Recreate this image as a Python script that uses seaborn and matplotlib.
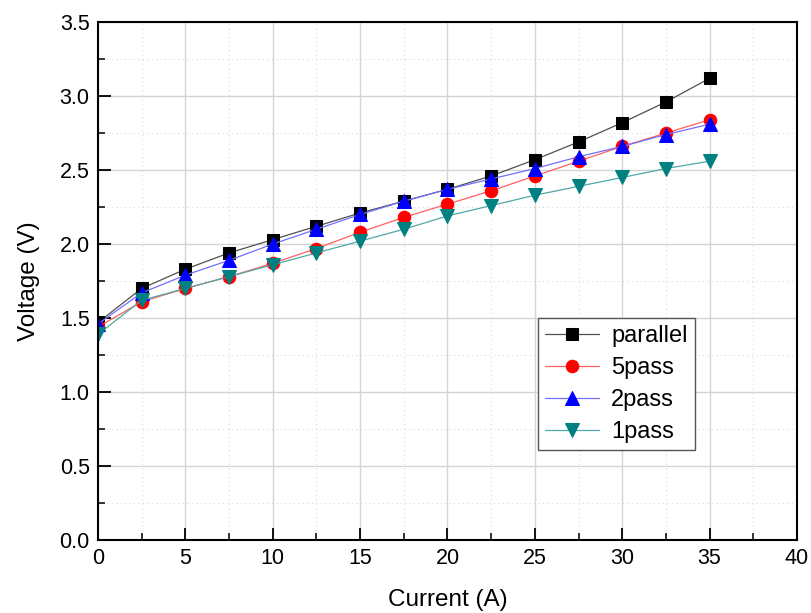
import numpy as np
import pandas as pd
import matplotlib
matplotlib.use("Agg")
import matplotlib.pyplot as plt
from matplotlib.ticker import MultipleLocator
import seaborn as sns

sns.set_style("ticks")
plt.rcParams['font.family'] = ['Liberation Sans', 'DejaVu Sans']

current = [0, 2.5, 5, 7.5, 10, 12.5, 15, 17.5, 20, 22.5, 25, 27.5, 30, 32.5, 35]
v_parallel = [1.47, 1.70, 1.83, 1.94, 2.03, 2.12, 2.21, 2.29, 2.37, 2.46, 2.57, 2.69, 2.82, 2.96, 3.12]
v_5pass = [1.44, 1.61, 1.70, 1.78, 1.87, 1.97, 2.08, 2.18, 2.27, 2.36, 2.46, 2.56, 2.66, 2.75, 2.84]
v_2pass = [1.46, 1.67, 1.79, 1.89, 2.00, 2.10, 2.20, 2.29, 2.37, 2.44, 2.51, 2.59, 2.66, 2.74, 2.81]
v_1pass = [1.39, 1.62, 1.70, 1.78, 1.86, 1.94, 2.02, 2.10, 2.19, 2.26, 2.33, 2.39, 2.45, 2.51, 2.56]

series = [
    ("parallel", v_parallel, "s", "black", "#505050"),
    ("5pass", v_5pass, "o", "red", "#ff6060"),
    ("2pass", v_2pass, "^", "blue", "#7070ff"),
    ("1pass", v_1pass, "v", "#008080", "#50a8a8"),
]

fig = plt.figure(figsize=(8.11, 6.13), dpi=100)
ax = fig.add_axes([0.1208, 0.119, 0.8619, 0.845])

for name, vals, mk, mcol, lcol in series:
    df = pd.DataFrame({"Current": current, "Voltage": vals})
    sns.lineplot(data=df, x="Current", y="Voltage", ax=ax, color=lcol, linewidth=0.9,
                 marker=mk, markersize=10 if mk in "^v" else 9, markerfacecolor=mcol,
                 markeredgecolor=mcol, label=name)

ax.set_xlim(0, 40)
ax.set_ylim(0, 3.5)
ax.xaxis.set_major_locator(MultipleLocator(5))
ax.xaxis.set_minor_locator(MultipleLocator(2.5))
ax.yaxis.set_major_locator(MultipleLocator(0.5))
ax.yaxis.set_minor_locator(MultipleLocator(0.25))
ax.set_xticklabels([f"{int(t)}" for t in ax.get_xticks()])
ax.set_yticklabels([f"{t:.1f}" for t in ax.get_yticks()])
ax.grid(which="major", color="#d4d4d4", linewidth=1.0, linestyle="-")
ax.grid(which="minor", color="#d8d8d8", linewidth=0.8, linestyle=(0, (1, 3)))
ax.set_axisbelow(True)
ax.tick_params(which="major", direction="in", length=9, width=1.3, labelsize=15.5,
               labelcolor="black", color="black", pad=6)
ax.tick_params(which="minor", direction="in", length=5, width=1.1, color="black")
for sp in ax.spines.values():
    sp.set_linewidth(1.5)
    sp.set_color("black")
ax.set_xlabel("Current (A)", fontsize=17.5, labelpad=14, color="black")
ax.set_ylabel("Voltage (V)", fontsize=17.5, labelpad=14, color="black")

leg = ax.legend(loc="upper left", bbox_to_anchor=(0.6295, 0.4286), borderaxespad=0,
                fontsize=17, frameon=True, fancybox=False, edgecolor="#555555",
                framealpha=1, borderpad=0.3, handlelength=2.3, labelspacing=0.42,
                handletextpad=0.5, markerscale=1.0)
leg.get_frame().set_linewidth(1.0)
for t in leg.get_texts():
    t.set_color("black")

fig.savefig("out.png", dpi=100)
